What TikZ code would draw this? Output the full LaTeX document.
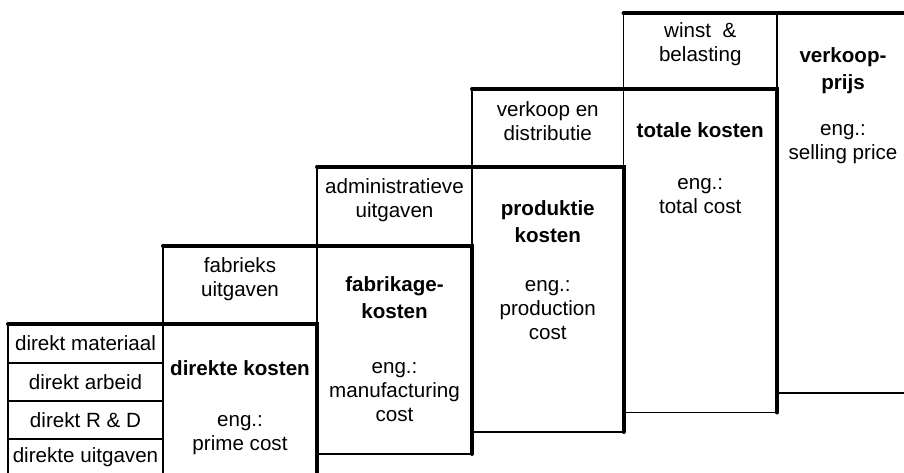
\documentclass[tikz,border=0pt]{standalone}
\usepackage{fontspec}
\setmainfont{Liberation Sans}
\usetikzlibrary{positioning}

\begin{document}
\begin{tikzpicture}[
  x=1pt, y=1pt,
  cell/.style={
    rectangle, draw, line width=1.7pt, outer sep=0pt, inner sep=0pt,
    anchor=north west, font=\fontsize{20.6}{24}\selectfont
  },
  stairline/.style={line width=4pt, line cap=round},
  plain/.style={inner sep=0pt, align=center, font=\fontsize{20.6}{24}\selectfont},
  heading/.style={plain, font=\fontsize{20.6}{27}\selectfont\bfseries},
]
  \useasboundingbox (0,0) rectangle (904,473);
  \clip (0,0) rectangle (904,473);

  % linker kolom
  \node[cell, minimum width=155pt, minimum height=39pt] (dmat) at (8,149) {direkt materiaal};
  \node[cell, minimum width=155pt, minimum height=38pt] (darb) at (8,110) {direkt arbeid};
  \node[cell, minimum width=155pt, minimum height=38pt] (drd)  at (8,72)  {direkt R \& D};
  \node[cell, minimum width=155pt, minimum height=46pt] (duit) at (8,34)  {};
  \node[plain, below=8pt of duit.north] (duittxt) {direkte uitgaven};

  % kostenblokken
  \node[cell, minimum width=154pt, minimum height=162pt]   (dk) at (163,149)   {};
  \node[cell, minimum width=154pt, minimum height=78pt]    (fu) at (163,227)   {};
  \node[cell, minimum width=155pt, minimum height=208pt]   (fk) at (317,227)   {};
  \node[cell, minimum width=155pt, minimum height=79pt]    (au) at (317,306)   {};
  \node[cell, minimum width=151.5pt, minimum height=265pt] (pk) at (472,306)   {};
  \node[cell, minimum width=151.5pt, minimum height=78pt]  (vd) at (472,384)   {};
  \node[cell, minimum width=153.5pt, minimum height=323.5pt] (tk) at (623.5,384) {};
  \node[cell, minimum width=153.5pt, minimum height=76pt]  (wb) at (623.5,460) {};
  \node[cell, minimum width=132pt, minimum height=380pt]   (vp) at (777,460)   {};

  % dikke trappen
  \draw[stairline] (dmat.north west) -- (dk.north east) -- (dk.south east);
  \draw[stairline] (fu.north west) -- (fk.north east) -- (fk.south east);
  \draw[stairline] (au.north west) -- (pk.north east) -- (pk.south east);
  \draw[stairline] (vd.north west) -- (tk.north east) -- (tk.south east);
  \draw[stairline] (wb.north west) -- (vp.north east);

  % bovenste vakjes
  \node[plain, below=11pt of fu.north] (futxt) {fabrieks\\uitgaven};
  \node[plain, below=11pt of au.north] (autxt) {administratieve\\uitgaven};
  \node[plain, below=12pt of vd.north] (vdtxt) {verkoop en\\distributie};
  \node[plain, below=9pt of wb.north] (wbtxt) {winst~~\&\\belasting};

  % kosten
  \node[heading, below=36pt of dk.north] (dkhead) {direkte kosten};
  \node[plain, below=40pt of dkhead] (dkeng) {eng.:\\prime cost};
  \node[heading, below=30pt of fk.north] (fkhead) {fabrikage-\\kosten};
  \node[plain, below=44pt of fkhead] (fkeng) {eng.:\\manufacturing\\cost};
  \node[heading, below=33pt of pk.north] (pkhead) {produktie\\kosten};
  \node[plain, below=38pt of pkhead] (pkeng) {eng.:\\production\\cost};
  \node[heading, below=33pt of tk.north] (tkhead) {totale kosten};
  \node[plain, below=41pt of tkhead] (tkeng) {eng.:\\total cost};
  \node[heading, below=34pt of vp.north] (vphead) {verkoop-\\prijs};
  \node[plain, below=31pt of vphead] (vpeng) {eng.:\\selling price};
\end{tikzpicture}
\end{document}
